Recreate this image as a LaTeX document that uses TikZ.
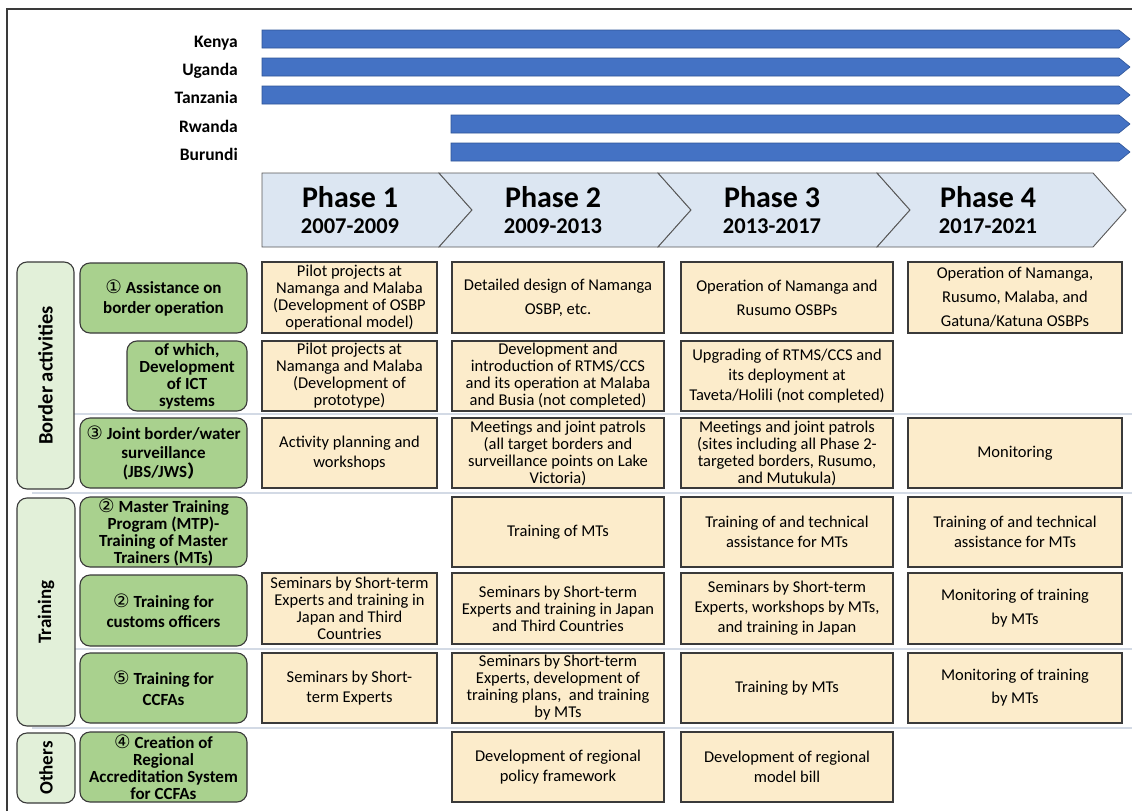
\documentclass[tikz,border=0pt]{standalone}
\usepackage{fontspec}
\setmainfont{Carlito}
\newfontfamily\circfont{DejaVu Sans}
\newfontfamily\cjkfont{Noto Sans CJK JP}
\definecolor{barc}{HTML}{4472C4}
\definecolor{bard}{HTML}{2F5597}
\definecolor{phasec}{HTML}{DCE6F2}
\definecolor{edgec}{HTML}{3A3A3A}
\definecolor{greenc}{HTML}{A9D18E}
\definecolor{greenl}{HTML}{E2F0D9}
\definecolor{cellc}{HTML}{FCECCB}
\definecolor{sepc}{HTML}{D3DAE5}
% circled numbers
\newcommand\cn[1]{{\circfont\mdseries\fontsize{18.5}{16}\selectfont #1}}
% box placed by its corners: [extra]{style}{name}{x0}{y0}{x1}{y1}{text}
\newcommand\boxat[8][]{%
  \node[#2,#1,minimum width={(#6-#4)*1pt},minimum height={(#7-#5)*1pt}]
    (#3) at ({(#4+#6)/2},{(#5+#7)/2}) {#8};}
\begin{document}
\begin{tikzpicture}[x=1pt,y=-1pt,
  countrylbl/.style={font=\bfseries\fontsize{17.5}{18}\selectfont, inner sep=0pt},
  phasebox/.style={draw=edgec!85, line width=0.9pt, fill=phasec},
  phasetitle/.style={font=\bfseries\fontsize{30}{32}\selectfont, inner sep=0pt},
  phaseyear/.style={font=\bfseries\fontsize{22.5}{24}\selectfont, inner sep=0pt},
  cellbox/.style={draw=edgec, line width=1.1pt, fill=cellc, inner sep=0pt,
    align=center, font=\fontsize{16.5}{17}\selectfont},
  lsA/.style={font=\fontsize{16.5}{20}\selectfont},
  lsB/.style={font=\fontsize{16.5}{24}\selectfont},
  greenbox/.style={draw=edgec, line width=1.1pt, fill=greenc, rounded corners=10pt,
    inner sep=0pt, align=center, font=\bfseries\fontsize{17}{17}\selectfont},
  glsA/.style={font=\bfseries\fontsize{17}{20.5}\selectfont},
  catbox/.style={draw=edgec, line width=1.1pt, fill=greenl, rounded corners=10pt,
    inner sep=0pt, font=\bfseries\fontsize{19}{20}\selectfont},
  sepline/.style={draw=sepc, line width=1.3pt}]
\useasboundingbox (0,0) rectangle (1132,811);
\fill[white] (0,0) rectangle (1132,811);

% outer frame
\draw[edgec, line width=1.4pt] (7,811) -- (7,9) -- (1132,9);

% membership bars
\foreach \nm/\lab/\xs/\yt in {kenya/Kenya/262/30, uganda/Uganda/262/58,
    tanzania/Tanzania/262/86, rwanda/Rwanda/451/115, burundi/Burundi/451/143} {
  \filldraw[fill=barc, draw=bard, line width=0.6pt]
    (\xs,\yt) -- (1119,\yt) -- (1130,\yt+9) -- (1119,\yt+18) -- (\xs,\yt+18) -- cycle;
  \node[countrylbl, anchor=base east] (\nm) at (238,\yt+17.5) {\lab};
}

% phase chevrons
\filldraw[phasebox] (262,173) -- (439,173) -- (472,210) -- (439,247) -- (262,247) -- cycle;
\filldraw[phasebox] (439,173) -- (658,173) -- (691,210) -- (658,247) -- (439,247) -- (472,210) -- cycle;
\filldraw[phasebox] (658,173) -- (877,173) -- (910,210) -- (877,247) -- (658,247) -- (691,210) -- cycle;
\filldraw[phasebox] (877,173) -- (1093,173) -- (1126,210) -- (1093,247) -- (877,247) -- (910,210) -- cycle;
\foreach \i/\cx/\yr in {1/350/2007-2009, 2/553/2009-2013, 3/772/2013-2017, 4/988/2017-2021} {
  \node[phasetitle, anchor=base] (ph\i) at (\cx,207) {Phase \i};
  \node[phaseyear, anchor=base] (yr\i) at (\cx,233) {\yr};
}

% row separators
\foreach \ys in {414,493,649,728} \draw[sepline] (32,\ys) -- (1132,\ys);

% category boxes
\node[catbox, rotate=90, minimum width=227pt, minimum height=57pt,
  font=\bfseries\fontsize{20.5}{22}\selectfont] (border) at (45.5,375.5) {Border activities};
\node[catbox, rotate=90, minimum width=228pt, minimum height=58pt] (training) at (46,612) {Training};
\node[catbox, rotate=90, minimum width=70pt, minimum height=58pt] (others) at (46,768) {Others};

% activity boxes
\boxat[glsA]{greenbox}{g1}{80}{263}{247}{333}{\cn{①} Assistance on\\border operation}
\boxat{greenbox}{g2}{127}{341}{247}{411}{of which,\\Development\\of ICT\\systems}
\boxat[font=\bfseries\fontsize{17}{19}\selectfont]{greenbox}{g3}{80}{418}{247}{488}{\cn{③} Joint border/water\\surveillance\\(JBS/JWS{\cjkfont ）}}
\boxat{greenbox}{g4}{80}{497}{247}{567}{\cn{②} Master Training\\Program (MTP)-\\Training of Master\\Trainers (MTs)}
\boxat[glsA]{greenbox}{g5}{80}{575}{247}{646}{\cn{②} Training for\\customs officers}
\boxat[glsA]{greenbox}{g6}{80}{653}{247}{723}{\cn{⑤} Training for\\CCFAs}
\boxat{greenbox}{g7}{80}{732}{247}{802}{\cn{④} Creation of\\Regional\\Accreditation System\\for CCFAs}

% phase 1 column
\boxat{cellbox}{c11}{262}{262}{437}{333}{Pilot projects at\\Namanga and Malaba\\(Development of OSBP\\operational model)}
\boxat{cellbox}{c21}{262}{341}{437}{411}{Pilot projects at\\Namanga and Malaba\\(Development of\\prototype)}
\boxat[font=\fontsize{16.5}{19.5}\selectfont]{cellbox}{c31}{262}{418}{437}{488}{Activity planning and\\workshops}
\boxat{cellbox}{c51}{262}{573}{437}{644}{Seminars by Short-term\\Experts and training in\\Japan and Third\\Countries}
\boxat[lsA]{cellbox}{c61}{262}{653}{437}{723}{Seminars by Short-\\term Experts}

% phase 2 column
\boxat[lsB]{cellbox}{c12}{452}{262}{664}{333}{Detailed design of Namanga\\OSBP, etc.}
\boxat{cellbox}{c22}{452}{341}{664}{411}{Development and\\introduction of RTMS/CCS\\and its operation at Malaba\\and Busia (not completed)}
\boxat{cellbox}{c32}{452}{418}{664}{488}{Meetings and joint patrols\\(all target borders and\\surveillance points on Lake\\Victoria)}
\boxat{cellbox}{c42}{452}{497}{664}{567}{Training of MTs}
\boxat{cellbox}{c52}{452}{573}{664}{644}{Seminars by Short-term\\Experts and training in Japan\\and Third Countries}
\boxat{cellbox}{c62}{452}{653}{664}{723}{Seminars by Short-term\\Experts, development of\\training plans,\ \ and training\\by MTs}
\boxat[lsA]{cellbox}{c72}{452}{732}{664}{802}{Development of regional\\policy framework}

% phase 3 column
\boxat[lsB]{cellbox}{c13}{681}{262}{893}{333}{Operation of Namanga and\\Rusumo OSBPs}
\boxat[lsA]{cellbox}{c23}{681}{341}{893}{411}{Upgrading of RTMS/CCS and\\its deployment at\\Taveta/Holili (not completed)}
\boxat{cellbox}{c33}{681}{418}{893}{488}{Meetings and joint patrols\\(sites including all Phase 2-\\targeted borders, Rusumo,\\and Mutukula)}
\boxat[lsA]{cellbox}{c43}{681}{497}{893}{567}{Training of and technical\\assistance for MTs}
\boxat[lsA]{cellbox}{c53}{681}{573}{893}{644}{Seminars by Short-term\\Experts, workshops by MTs,\\and training in Japan}
\boxat{cellbox}{c63}{681}{653}{893}{723}{Training by MTs}
\boxat[lsA]{cellbox}{c73}{681}{732}{893}{802}{Development of regional\\model bill}

% phase 4 column
\boxat[lsB]{cellbox}{c14}{908}{262}{1122}{333}{Operation of Namanga,\\Rusumo, Malaba, and\\Gatuna/Katuna OSBPs}
\boxat{cellbox}{c34}{908}{418}{1122}{488}{Monitoring}
\boxat[lsA]{cellbox}{c44}{908}{497}{1122}{567}{Training of and technical\\assistance for MTs}
\boxat[lsB]{cellbox}{c54}{908}{573}{1122}{644}{Monitoring of training\\by MTs}
\boxat[font=\fontsize{16.5}{23}\selectfont]{cellbox}{c64}{908}{653}{1122}{723}{Monitoring of training\\by MTs}
\end{tikzpicture}
\end{document}
